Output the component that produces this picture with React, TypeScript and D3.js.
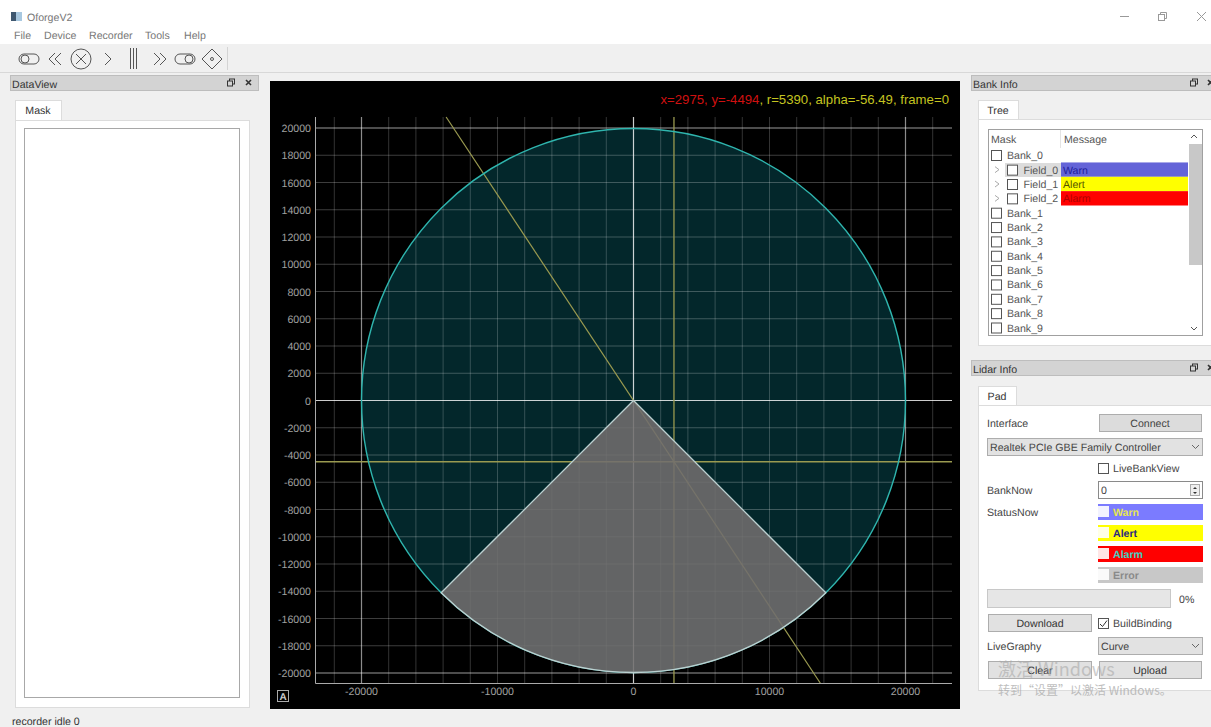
import React from "react";
import * as d3 from "d3";

const xLabelTicks = [-20000, -10000, 0, 10000, 20000];
const yLabelTicks = [20000, 18000, 16000, 14000, 12000, 10000, 8000, 6000, 4000, 2000, 0, -2000, -4000, -6000, -8000, -10000, -12000, -14000, -16000, -18000, -20000];
const gridX = [-22000, -20000, -18000, -16000, -14000, -12000, -10000, -8000, -6000, -4000, -2000, 0, 2000, 4000, 6000, 8000, 10000, 12000, 14000, 16000, 18000, 20000, 22000];
const gridY = yLabelTicks;
const brightValues = [-20000, 0, 20000];
const fieldRadius = 20000;
const sectorStartDeg = 135;
const sectorEndDeg = 225;
const cursorX = 2975;
const cursorY = -4494;
const cursorR = 5390;
const cursorAlpha = -56.49;
const frameNo = 0;

const menus = ["File", "Device", "Recorder", "Tools", "Help"];
const menuXs = [14, 44, 89, 145, 184];
const banksTop = ["Bank_0"];
const fields = ["Field_0", "Field_1", "Field_2"];
const fieldMsgs = ["Warn", "Alert", "Alarm"];
const fieldColors = ["#6464d8", "#ffff00", "#ff0000"];
const fieldTextColors = ["#20209a", "#555500", "#b00000"];
const banksRest = ["Bank_1", "Bank_2", "Bank_3", "Bank_4", "Bank_5", "Bank_6", "Bank_7", "Bank_8", "Bank_9"];
const statusNames = ["Warn", "Alert", "Alarm", "Error"];
const statusColors = ["#7b7bff", "#ffff00", "#ff0000", "#c8c8c8"];
const statusTextColors = ["#e6e650", "#2a2a80", "#40d0c0", "#8a8a8a"];
const statusYs = [504, 525, 546, 567];

const FONT = "'Liberation Sans', Arial, sans-serif";

const T = ({ x, y, c = "#444", s = 10.6, a = "start", w = 400, o = 1, children }: any) => (
  <text x={x} y={y} fill={c} fontSize={s} textAnchor={a} fontWeight={w} opacity={o} fontFamily={FONT} style={{ textRendering: "geometricPrecision" }}>{children}</text>
);

const Box = ({ x, y, w, h, f = "#e1e1e1", b = "#adadad" }: any) => (
  <rect x={x + 0.5} y={y + 0.5} width={w - 1} height={h - 1} fill={f} stroke={b} />
);

const Chev = ({ x, y }: any) => (
  <path d={`M${x} ${y}l4 3l-4 3`} fill="none" stroke="#aaa" />
);

const ComboArrow = ({ x, y }: any) => (
  <path d={`M${x} ${y}l3.5 3.5l3.5 -3.5`} fill="none" stroke="#666" />
);

const DockHeader = ({ x, y, w, h, title, floatX, closeX }: any) => (
  <g>
    <rect x={x} y={y} width={w} height={h} fill="#d3d3d3" stroke="#bdbdbd" />
    <T x={x + 1.5} y={y + 12} c="#333">{title}</T>
    <g fill="none" stroke="#333">
      <rect x={floatX + 2.5} y={y + 3.5} width={5} height={5} />
      <rect x={floatX + 0.5} y={y + 5.5} width={5} height={5} fill="#d3d3d3" />
    </g>
    <path d={`M${closeX} ${y + 4.5}l5 5M${closeX + 5} ${y + 4.5}l-5 5`} stroke="#333" strokeWidth={1.6} fill="none" />
  </g>
);

const Tab = ({ x, y, w, h, label }: any) => (
  <g>
    <rect x={x + 0.5} y={y + 0.5} width={w} height={h} fill="#fff" stroke="#dcdcdc" />
    <T x={x + w / 2} y={y + 14} a="middle" c="#333">{label}</T>
  </g>
);

const CheckBox = ({ x, y, checked = false }: any) => (
  <g>
    <rect x={x + 0.5} y={y + 0.5} width={10} height={10} fill="#fff" stroke="#555" />
    {checked && <path d={`M${x + 2} ${y + 6}l2.5 2.5l4.5 -6`} fill="none" stroke="#333" />}
  </g>
);

const Plot = () => {
  const x = d3.scaleLinear().domain([-20000, 20000]).range([361.5, 905.5]);
  const y = d3.scaleLinear().domain([-20000, 20000]).range([673, 128]);
  const left = 315.5, right = 952, top = 117, bottom = 683.5;
  const rx = x(fieldRadius) - x(0);
  const sector = d3.arc()({
    innerRadius: 0,
    outerRadius: rx,
    startAngle: (sectorStartDeg * Math.PI) / 180,
    endAngle: (sectorEndDeg * Math.PI) / 180,
  }) as string;
  const t = Math.tan((cursorAlpha * Math.PI) / 180);
  const yTopV = y.invert(top), yBotV = y.invert(bottom);
  const olive = "#9a9a50";
  return (
    <g>
      <rect x={270} y={81} width={690} height={628} fill="#000" />
      <circle cx={x(0)} cy={y(0)} r={rx} fill="#03272b" />
      {gridX.map((v) => {
        const b = brightValues.includes(v);
        return <line key={v} x1={x(v)} x2={x(v)} y1={top} y2={bottom} stroke="#fff" strokeWidth={b ? 1.2 : 1} strokeOpacity={b ? (v === 0 ? 0.8 : 0.55) : 0.2} />;
      })}
      {gridY.map((v) => {
        const b = brightValues.includes(v);
        return <line key={v} x1={left} x2={right} y1={y(v)} y2={y(v)} stroke="#fff" strokeWidth={b ? 1.2 : 1} strokeOpacity={b ? (v === 0 ? 0.8 : 0.6) : 0.24} />;
      })}
      <line x1={x(cursorX)} x2={x(cursorX)} y1={top} y2={bottom} stroke={olive} strokeWidth={1.3} />
      <line x1={left} x2={right} y1={y(cursorY)} y2={y(cursorY)} stroke={olive} strokeWidth={1.3} />
      <line x1={x(yTopV / t)} x2={x(yBotV / t)} y1={top} y2={bottom} stroke={olive} strokeWidth={1.2} />
      <circle cx={x(0)} cy={y(0)} r={rx} fill="none" stroke="#2fb5ae" strokeWidth={1.4} />
      <path d={sector} transform={`translate(${x(0)},${y(0)})`} fill="#716d6d" fillOpacity={0.88} stroke="#bcd0d0" strokeWidth={1.3} />
      <line x1={left} x2={left} y1={top} y2={bottom} stroke="#aaa" />
      <line x1={left} x2={right} y1={bottom} y2={bottom} stroke="#aaa" />
      {yLabelTicks.map((v) => (
        <T key={v} x={311} y={y(v) + 4} a="end" c="#a0a0a0">{v}</T>
      ))}
      {xLabelTicks.map((v) => (
        <T key={v} x={x(v)} y={695} a="middle" c="#a0a0a0">{v}</T>
      ))}
      <rect x={277.5} y={690.5} width={11} height={11} fill="none" stroke="#aaa" />
      <T x={283} y={700} a="middle" c="#ccc" s={10} w={700}>A</T>
      <text x={949} y={104} textAnchor="end" fontSize={13.2} fontFamily={FONT}>
        <tspan fill="#d01010">x={cursorX}, y={cursorY}</tspan>
        <tspan fill="#c4c420">, r={cursorR}, alpha={cursorAlpha}, frame={frameNo}</tspan>
      </text>
    </g>
  );
};

export default function App() {
  const rowY = d3.scaleLinear().domain([0, 1]).range([155.3, 169.65]);
  const rest = banksRest.map((b, i) => ({ b, i: i + 4 }));
  return (
    <svg width={1211} height={727} style={{ position: "absolute", left: 0, top: 0, display: "block" }}>
      <rect width={1211} height={727} fill="#f0f0f0" />
      <rect width={1211} height={44} fill="#fff" />
      <rect x={11} y={12} width={5} height={9} fill="#3f5870" />
      <rect x={16} y={12} width={6} height={9} fill="#a8c8e0" />
      <T x={27} y={21} c="#777">OforgeV2</T>
      {menus.map((m, i) => <T key={m} x={menuXs[i]} y={39} c="#777">{m}</T>)}
      <g stroke="#999" fill="none">
        <path d="M1120 16.5h9" />
        <rect x={1158.5} y={14.5} width={6} height={6} />
        <path d="M1160.5 14.5v-2h6v6h-2" />
        <path d="M1197 12l9 9M1206 12l-9 9" />
      </g>
      {/* toolbar */}
      <rect x={0} y={45} width={1211} height={27} fill="#f0f0f0" />
      <line x1={0} x2={1211} y1={72.5} y2={72.5} stroke="#d8d8d8" />
      <g stroke="#555" fill="none">
        <rect x={19} y={54} width={20} height={10} rx={5} />
        <circle cx={25} cy={59} r={4} />
        <path d="M55 53l-6 6l6 6M61 53l-6 6l6 6" />
        <circle cx={81} cy={59} r={10} />
        <path d="M76 54l10 10M86 54l-10 10" />
        <path d="M105 53l6 6l-6 6" />
        <path d="M130.5 48v21M133.5 48v21M136.5 48v21" />
        <path d="M154 53l6 6l-6 6M160 53l6 6l-6 6" />
        <rect x={175} y={54} width={20} height={10} rx={5} />
        <circle cx={189} cy={59} r={4} />
        <path d="M212 49l10 10l-10 10l-10 -10z" />
        <circle cx={212} cy={59} r={1.5} />
      </g>
      <line x1={227.5} x2={227.5} y1={47} y2={70} stroke="#d4d4d4" />

      {/* left dock */}
      <DockHeader x={10.5} y={75.5} w={248} h={15} title="DataView" floatX={227} closeX={246} />
      <rect x={15.5} y={120.5} width={234} height={587} fill="#fff" stroke="#dcdcdc" />
      <Tab x={15} y={100} w={46} h={20} label="Mask" />
      <rect x={24.5} y={128.5} width={215} height={569} fill="#fff" stroke="#a8a8a8" />

      <Plot />

      {/* Bank info */}
      <DockHeader x={971.5} y={75.5} w={245} h={15} title="Bank Info" floatX={1190} closeX={1208} />
      <rect x={978.5} y={119.5} width={240} height={226} fill="#fff" stroke="#dcdcdc" />
      <Tab x={978} y={100} w={40} h={19} label="Tree" />
      <rect x={988.5} y={129.5} width={214} height={206} fill="#fff" stroke="#a0a0a0" />
      <line x1={1060.5} x2={1060.5} y1={130} y2={148} stroke="#e4e4e4" />
      <T x={991} y={142.5} c="#555">Mask</T>
      <T x={1064} y={142.5} c="#555">Message</T>
      <path d="M1191 138l3 -3l3 3" fill="none" stroke="#555" />
      <path d="M1191 327l3 3l3 -3" fill="none" stroke="#555" />
      <rect x={1189} y={144} width={13} height={121} fill="#c8c8c8" />
      {banksTop.map((b) => (
        <g key={b}><CheckBox x={991} y={150} /><T x={1007} y={159.2} c="#555">{b}</T></g>
      ))}
      <rect x={1005} y={163} width={56} height={14} fill="#dcdcdc" />
      {fields.map((f, i) => {
        const cy = rowY(i + 1);
        return (
          <g key={f}>
            <Chev x={995} y={cy - 3} />
            <CheckBox x={1007} y={cy - 5} />
            <T x={1023.5} y={cy + 4} c="#555">{f}</T>
            <rect x={1061} y={cy - 7.2} width={127} height={14.35} fill={fieldColors[i]} />
            <T x={1063} y={cy + 4} c={fieldTextColors[i]}>{fieldMsgs[i]}</T>
          </g>
        );
      })}
      {rest.map(({ b, i }) => (
        <g key={b}><CheckBox x={991} y={rowY(i) - 5} /><T x={1007} y={rowY(i) + 4} c="#555">{b}</T></g>
      ))}

      {/* Lidar info */}
      <DockHeader x={971.5} y={360.5} w={245} h={15} title="Lidar Info" floatX={1190} closeX={1208} />
      <rect x={978.5} y={405.5} width={240} height={285} fill="#fff" stroke="#dcdcdc" />
      <Tab x={978} y={386} w={38} h={19} label="Pad" />
      <T x={987} y={427}>Interface</T>
      <Box x={1099} y={414} w={103} h={18} f="#dcdcdc" />
      <T x={1150} y={427} a="middle">Connect</T>
      <Box x={987} y={438} w={216} h={18} f="#e2e2e2" />
      <T x={990} y={450.5}>Realtek PCIe GBE Family Controller</T>
      <ComboArrow x={1192} y={445} />
      <CheckBox x={1098} y={463} />
      <T x={1113} y={472}>LiveBankView</T>
      <T x={987} y={494}>BankNow</T>
      <Box x={1098} y={481} w={105} h={18} f="#fff" b="#8a8a8a" />
      <T x={1101} y={494}>0</T>
      <rect x={1190.5} y={484.5} width={9} height={11} fill="#eee" stroke="#aaa" />
      <path d="M1193 489l2 -2l2 2zM1193 492l2 2l2 -2z" fill="#333" />
      <T x={987} y={516}>StatusNow</T>
      {statusNames.map((s, i) => (
        <g key={s}>
          <rect x={1098} y={statusYs[i]} width={105} height={16} fill={statusColors[i]} />
          <rect x={1098} y={statusYs[i] + 2} width={11} height={11} fill="#fff" opacity={0.9} />
          <T x={1113} y={statusYs[i] + 12} c={statusTextColors[i]} w={700}>{s}</T>
        </g>
      ))}
      <Box x={987} y={589} w={184} h={19} f="#e6e6e6" b="#c8c8c8" />
      <T x={1179} y={603}>0%</T>
      <Box x={988} y={614} w={104} h={18} />
      <T x={1040} y={627} a="middle" c="#333">Download</T>
      <CheckBox x={1098} y={618} checked />
      <T x={1113} y={627}>BuildBinding</T>
      <T x={987} y={650}>LiveGraphy</T>
      <Box x={1098} y={637} w={105} h={18} f="#e2e2e2" />
      <T x={1101} y={650}>Curve</T>
      <ComboArrow x={1192} y={644} />
      <Box x={988} y={661} w={104} h={18} />
      <T x={1040} y={674} a="middle" c="#333">Clear</T>
      <Box x={1099} y={661} w={103} h={18} />
      <T x={1150} y={674} a="middle" c="#333">Upload</T>
      <text x={998} y={676} fontSize={18} fill="#aaa" opacity={0.6} fontFamily="'Noto Sans CJK SC', sans-serif">激活 Windows</text>
      <text x={998} y={695} fontSize={12} fill="#aaa" opacity={0.75} fontFamily="'Noto Sans CJK SC', sans-serif">转到“设置”以激活 Windows。</text>
      <T x={12} y={725} c="#333">recorder idle  0</T>
    </svg>
  );
}
